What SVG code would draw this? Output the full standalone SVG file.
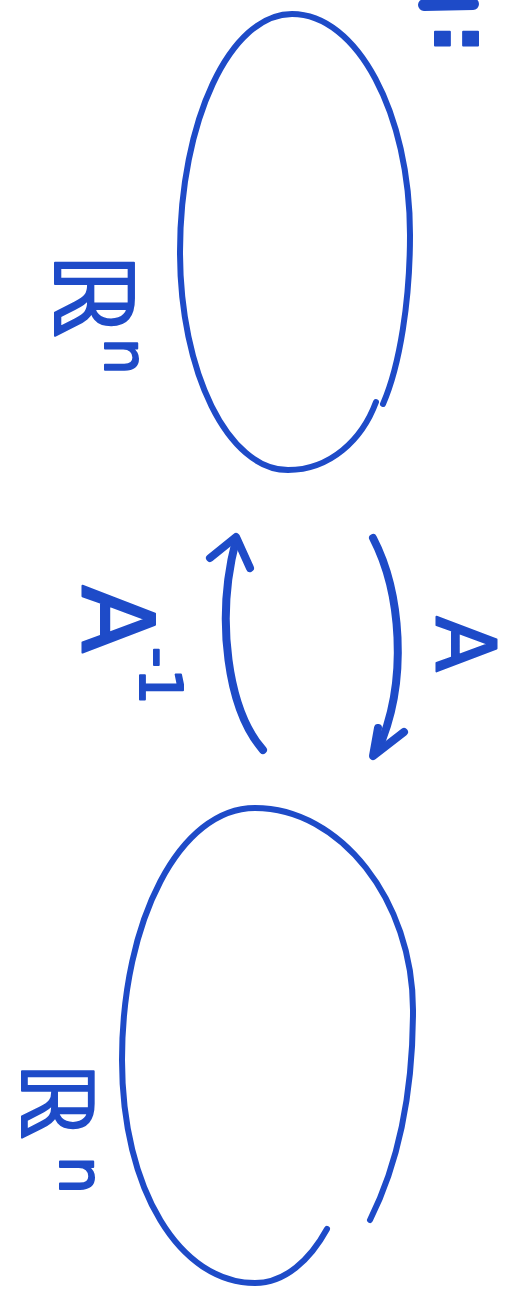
<svg xmlns="http://www.w3.org/2000/svg" width="517" height="1295" viewBox="0 0 517 1295">
<style>
  .ink { fill: none; stroke: #1e4bc8; stroke-linecap: round; stroke-linejoin: round; }
  .set { stroke-width: 6; }
  .arrow { stroke-width: 8; }
  .lbl { font-family: "DejaVu Sans", "Liberation Sans", sans-serif; fill: #1e4bc8; stroke: #1e4bc8; stroke-width: 2; stroke-linejoin: round; }
</style>
<rect width="517" height="1295" fill="#ffffff"/>
<g id="fragment">
  <line class="ink" x1="424" y1="5" x2="473" y2="4" stroke-width="12"/>
  <g transform="rotate(90)"><text class="lbl" x="23" y="-435" font-size="78" font-weight="bold">:</text></g>
</g>
<g id="node-top">
  <path class="ink set" d="M383,404 C400,365 410,300 410,235 C410,113 357,14 292,14 C230,14 180,121 180,252 C180,372 228,470 288,470 C330,470 362,440 376,402"/>
  <g transform="rotate(90)">
    <text class="lbl" x="252" y="-55" font-size="108">ℝ</text>
    <text class="lbl" x="338" y="-105" font-size="58">n</text>
  </g>
</g>
<g id="node-bottom">
  <path class="ink set" d="M370,1220 C400,1160 413,1090 413,1010 C413,900 340,808 255,808 C180,808 122,920 122,1060 C122,1190 180,1283 255,1283 C285,1283 310,1260 327,1229"/>
  <g transform="rotate(90)">
    <text class="lbl" x="1062" y="-22" font-size="98">ℝ</text>
    <text class="lbl" x="1156" y="-60" font-size="60">n</text>
  </g>
</g>
<g id="connectors">
  <g id="edge-Ainv">
    <path class="ink arrow" d="M263,750 C228,710 215,620 236,540"/>
    <path class="ink arrow" d="M210,558 L236,537 L250,568"/>
    <g transform="rotate(90)">
      <text class="lbl" x="585" y="-82" font-size="100">A<tspan x="647" y="-140" font-size="58">-1</tspan></text>
    </g>
  </g>
  <g id="edge-A">
    <path class="ink arrow" d="M373,538 C400,590 410,680 377,752"/>
    <path class="ink arrow" d="M404,732 L373,756 L378,728"/>
    <g transform="rotate(90)">
      <text class="lbl" x="616" y="-437" font-size="82">A</text>
    </g>
  </g>
</g>
</svg>
